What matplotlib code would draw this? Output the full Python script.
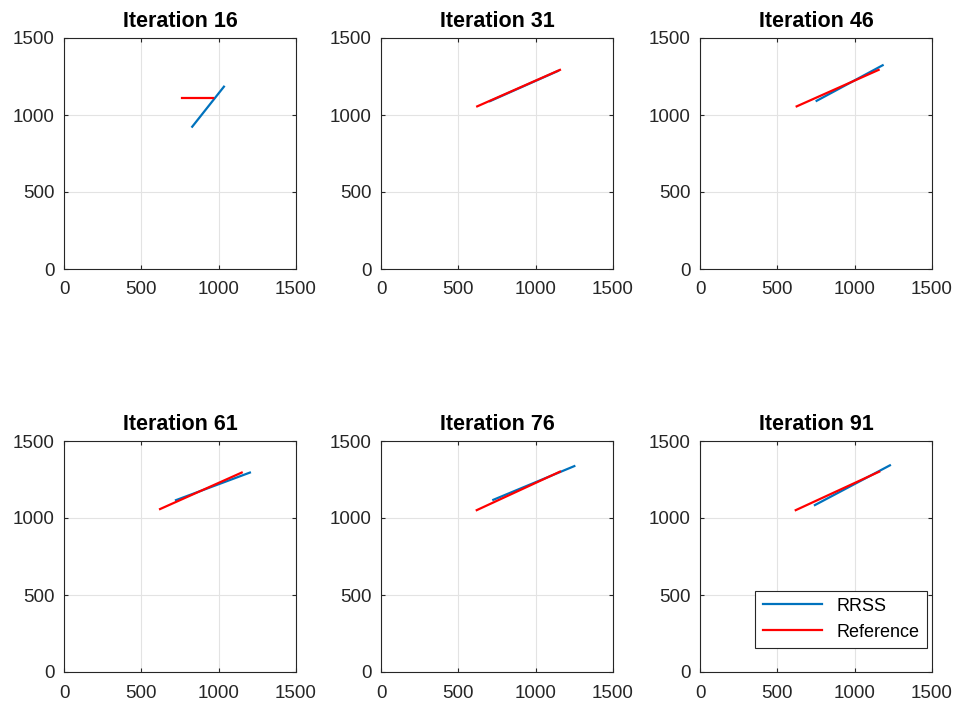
import matplotlib
matplotlib.use('Agg')
import matplotlib.pyplot as plt

plt.rcParams['font.family'] = ['Liberation Sans', 'DejaVu Sans']

# iteration numbers shown in each panel
iterations = [16, 31, 46, 61, 76, 91]

# RRSS estimated line endpoints per iteration: [x0, x1], [y0, y1]
rrss_x = [[829, 1034], [705, 1144], [754, 1181], [724, 1202], [726, 1250], [743, 1228]]
rrss_y = [[924, 1184], [1090, 1286], [1092, 1323], [1116, 1295], [1118, 1337], [1084, 1342]]

# reference line endpoints per iteration
ref_x = [[765, 965], [622, 1157], [625, 1155], [621, 1149], [619, 1157], [619, 1159]]
ref_y = [[1112, 1112], [1056, 1293], [1056, 1293], [1058, 1295], [1051, 1301], [1051, 1301]]

ticks = [0, 500, 1000, 1500]

fig = plt.figure(figsize=(9.63, 7.08), dpi=100)

lefts = [64 / 963, 381 / 963, 700 / 963]
bottoms = [1 - 269 / 708, 1 - 672 / 708]
w = 232 / 963
h = 231 / 708

for i, it in enumerate(iterations):
    ax = fig.add_axes([lefts[i % 3], bottoms[i // 3], w, h])
    ax.plot(rrss_x[i], rrss_y[i], color='#0072BD', lw=1.6, label='RRSS')
    ax.plot(ref_x[i], ref_y[i], color='#FF0000', lw=1.6, label='Reference')
    ax.set_xlim(0, 1500)
    ax.set_ylim(0, 1500)
    ax.set_xticks(ticks)
    ax.set_yticks(ticks)
    ax.grid(True, color='#e3e3e3', lw=0.8)
    ax.set_axisbelow(True)
    ax.tick_params(direction='in', length=3, labelsize=13.5, colors='#262626',
                   top=True, right=True)
    ax.tick_params(axis='x', pad=9)
    ax.tick_params(axis='y', pad=7)
    for sp in ax.spines.values():
        sp.set_color('#262626')
        sp.set_linewidth(0.8)
    ax.set_title('Iteration %d' % it, fontsize=15.5, fontweight='bold', pad=8)
    if i == 5:
        leg = ax.legend(loc='lower right', bbox_to_anchor=(0.978, 0.104),
                        borderaxespad=0, fontsize=13, fancybox=False,
                        edgecolor='#262626', framealpha=1, handlelength=3.3)
        leg.get_frame().set_linewidth(0.8)

fig.savefig('out.png', dpi=100)
